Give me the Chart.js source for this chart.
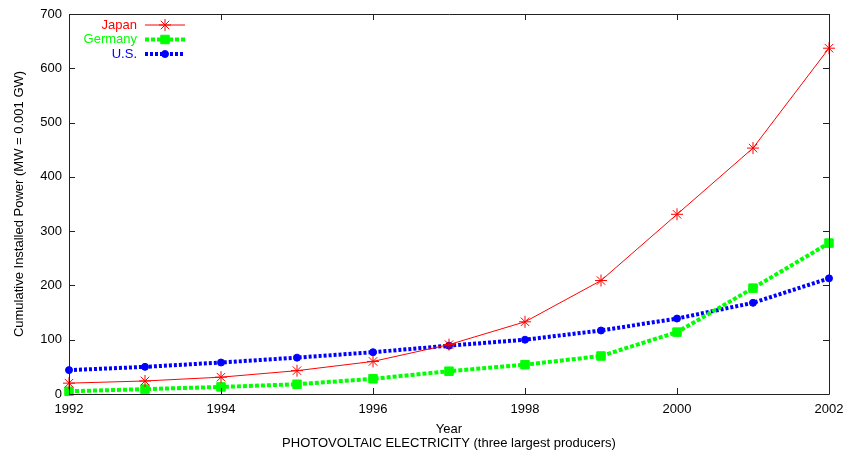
<!DOCTYPE html>
<html>
<head>
<meta charset="utf-8">
<script src="https://cdn.jsdelivr.net/npm/chart.js@4/dist/chart.umd.min.js"></script>
<style>
  html, body { margin: 0; padding: 0; background: #fff; }
  #wrap { width: 847px; height: 453px; }
</style>
</head>
<body>
<div id="wrap"><canvas id="pv"></canvas></div>
<script>
// data (MW)
const years = [1992, 1993, 1994, 1995, 1996, 1997, 1998, 1999, 2000, 2001, 2002];
const japan = [20, 24, 31, 43, 60, 91, 133, 209, 331, 453, 637];
const germany = [5, 9, 13, 18, 28, 42, 54, 70, 114, 195, 278];
const us = [44, 50, 58, 67, 77, 89, 100, 117, 139, 168, 213];
const xTicks = [1992, 1994, 1996, 1998, 2000, 2002];
const yTicks = [0, 100, 200, 300, 400, 500, 600, 700];

const FONT = 'Liberation Sans, Arial, sans-serif';

const toPoints = (vals) => vals.map((v, i) => ({ x: years[i], y: v }));

// gnuplot-ish frame, inward ticks and the legend in the top-left corner
const framePlugin = {
  id: 'frame',
  afterDraw(chart) {
    const ctx = chart.ctx;
    const a = chart.chartArea;
    const xs = chart.scales.x, ys = chart.scales.y;
    const len = 6;
    ctx.save();
    ctx.strokeStyle = '#222';
    ctx.lineWidth = 1;
    ctx.beginPath();
    ctx.rect(a.left + 0.5, a.top + 0.5, a.right - a.left, a.bottom - a.top);
    xTicks.forEach((t) => {
      const px = Math.round(xs.getPixelForValue(t)) + 0.5;
      ctx.moveTo(px, a.bottom); ctx.lineTo(px, a.bottom - len);
      ctx.moveTo(px, a.top); ctx.lineTo(px, a.top + len);
    });
    yTicks.forEach((t) => {
      const py = Math.round(ys.getPixelForValue(t)) + 0.5;
      ctx.moveTo(a.left, py); ctx.lineTo(a.left + len, py);
      ctx.moveTo(a.right, py); ctx.lineTo(a.right - len, py);
    });
    ctx.stroke();

    // legend
    ctx.font = '13px ' + FONT;
    ctx.textAlign = 'right';
    ctx.textBaseline = 'middle';
    chart.data.datasets.forEach((ds, i) => {
      const y = a.top + 11 + i * 14.5;
      const tx = a.left + 68;
      ctx.fillStyle = ds.borderColor;
      ctx.fillText(ds.label, tx, y);
      ctx.beginPath();
      ctx.strokeStyle = ds.borderColor;
      ctx.lineWidth = ds.borderWidth;
      ctx.setLineDash(ds.borderDash || []);
      ctx.moveTo(tx + 8, y);
      ctx.lineTo(tx + 48, y);
      ctx.stroke();
      ctx.setLineDash([]);
      ctx.fillStyle = ds.borderColor;
      ctx.strokeStyle = ds.borderColor;
      ctx.lineWidth = ds.pointBorderWidth;
      Chart.helpers.drawPoint(ctx, {
        pointStyle: ds.pointStyle,
        radius: ds.pointRadius,
        borderWidth: ds.pointBorderWidth
      }, tx + 28, y);
    });
    ctx.restore();
  }
};

new Chart(document.getElementById('pv'), {
  type: 'line',
  data: {
    datasets: [
      {
        label: 'Japan',
        data: toPoints(japan),
        borderColor: '#ff0000',
        backgroundColor: '#ff0000',
        borderWidth: 1,
        pointStyle: 'star',
        pointRadius: 6,
        pointBorderWidth: 1,
        pointBorderColor: '#ff0000',
        clip: false
      },
      {
        label: 'Germany',
        data: toPoints(germany),
        borderColor: '#00ff00',
        backgroundColor: '#00ff00',
        borderWidth: 4,
        borderDash: [4, 2],
        pointStyle: 'rect',
        pointRadius: 6,
        pointBorderWidth: 1,
        pointBorderColor: '#00ff00',
        clip: false
      },
      {
        label: 'U.S.',
        data: toPoints(us),
        borderColor: '#0000ff',
        backgroundColor: '#0000ff',
        borderWidth: 4,
        borderDash: [3, 2],
        pointStyle: 'circle',
        pointRadius: 3.5,
        pointBorderWidth: 1,
        pointBorderColor: '#0000ff',
        clip: false
      }
    ]
  },
  plugins: [framePlugin],
  options: {
    responsive: true,
    maintainAspectRatio: false,
    animation: false,
    layout: { padding: { top: 14, right: 18, left: 0, bottom: 0 } },
    plugins: {
      legend: { display: false },
      tooltip: { enabled: false }
    },
    scales: {
      x: {
        type: 'linear',
        min: 1992,
        max: 2002,
        afterBuildTicks: (s) => { s.ticks = xTicks.map((v) => ({ value: v })); },
        afterFit: (s) => { s.height = 59; s.paddingLeft = 0; s.paddingRight = 0; },
        grid: { display: false, drawTicks: false },
        border: { display: false },
        ticks: {
          color: '#000',
          font: { family: FONT, size: 13 },
          padding: 8,
          maxRotation: 0,
          callback: (v) => String(v)
        },
        title: {
          display: true,
          text: ['Year', 'PHOTOVOLTAIC ELECTRICITY (three largest producers)'],
          color: '#000',
          font: { family: FONT, size: 13, lineHeight: 1.1 },
          padding: { top: 0, bottom: 2 }
        }
      },
      y: {
        min: 0,
        max: 700,
        afterBuildTicks: (s) => { s.ticks = yTicks.map((v) => ({ value: v })); },
        afterFit: (s) => { s.width = 69; s.paddingTop = 0; s.paddingBottom = 0; },
        grid: { display: false, drawTicks: false },
        border: { display: false },
        ticks: {
          color: '#000',
          font: { family: FONT, size: 13 },
          padding: 7
        },
        title: {
          display: true,
          text: 'Cumulative Installed Power (MW = 0.001 GW)',
          color: '#000',
          font: { family: FONT, size: 13 },
          padding: { top: 12, bottom: 0 }
        }
      }
    }
  }
});
</script>
</body>
</html>
